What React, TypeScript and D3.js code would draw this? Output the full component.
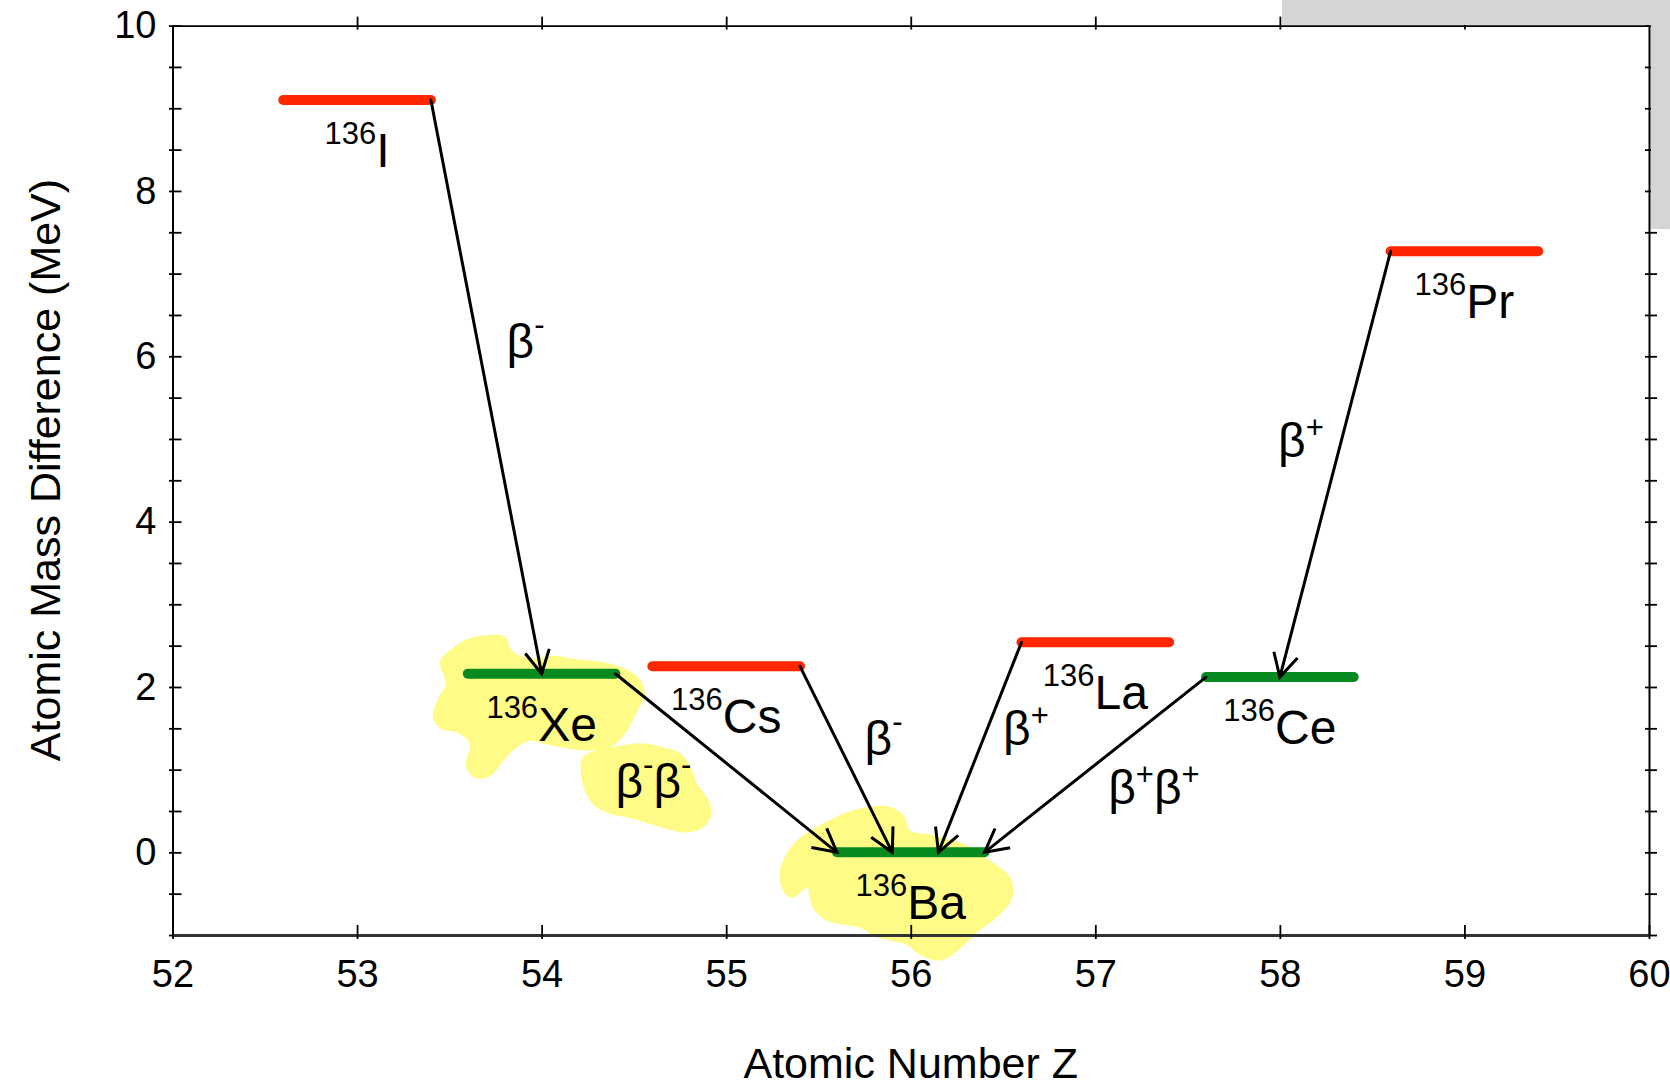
import React, { useEffect, useRef } from "react";
import * as d3 from "d3";

const W = 1670;
const H = 1086;
const FONT = "'Liberation Sans', Arial, Helvetica, sans-serif";

// isotopes of the A = 136 isobar
const massNumber = "136";
const elements = ["I", "Xe", "Cs", "Ba", "La", "Ce", "Pr"];
const protonNumbers = [53, 54, 55, 56, 57, 58, 59];
const massDiff = [9.1, 2.16, 2.25, 0, 2.54, 2.12, 7.27];
const isStable = [false, true, false, true, false, true, false];

// decays (arrows)
const decayFrom = ["I", "Xe", "Cs", "La", "Ce", "Pr"];
const decayTo = ["Xe", "Ba", "Ba", "Ba", "Ba", "Ce"];
const decayHitZ = [54.0, 55.6, 55.9, 56.15, 56.4, 58.0];
const decayLabel = ["β^-", "β^-β^-", "β^-", "β^+", "β^+β^+", "β^+"];
const decayLabelZ = [53.81, 54.4, 55.75, 56.5, 57.07, 57.99];
const decayLabelE = [5.98, 0.66, 1.18, 1.3, 0.59, 4.78];

// axis ticks
const xTicks = [52, 53, 54, 55, 56, 57, 58, 59, 60];
const yTicks = d3.range(-1, 10.01, 0.5);
const yTickLabels = [0, 2, 4, 6, 8, 10];

// highlighter marks, outline points in (Z, MeV)
const xeHighlight = [
  [53.45, 2.31], [53.53, 2.49], [53.61, 2.59], [53.72, 2.63], [53.8, 2.61], [53.84, 2.44],
  [53.94, 2.34], [54.06, 2.38], [54.17, 2.34], [54.3, 2.31], [54.42, 2.25], [54.53, 2.1],
  [54.56, 1.9], [54.52, 1.72], [54.46, 1.46], [54.38, 1.28], [54.26, 1.23], [54.13, 1.26],
  [54.02, 1.31], [53.94, 1.35], [53.86, 1.26], [53.79, 1.1], [53.72, 0.92], [53.64, 0.9],
  [53.59, 1.04], [53.61, 1.32], [53.55, 1.44], [53.45, 1.5], [53.41, 1.64], [53.44, 1.86],
  [53.48, 2.04],
];
const bbHighlight = [
  [54.22, 1.14], [54.29, 1.23], [54.4, 1.28], [54.53, 1.32], [54.64, 1.28], [54.75, 1.2],
  [54.81, 1.02], [54.84, 0.84], [54.9, 0.65], [54.92, 0.47], [54.88, 0.31], [54.79, 0.24],
  [54.7, 0.27], [54.59, 0.34], [54.49, 0.41], [54.38, 0.46], [54.29, 0.56], [54.23, 0.77],
];
const baHighlight = [
  [55.29, -0.23], [55.36, 0.09], [55.51, 0.33], [55.69, 0.51], [55.87, 0.56], [55.96, 0.45],
  [56.0, 0.26], [56.12, 0.21], [56.3, 0.09], [56.43, -0.1], [56.54, -0.31], [56.55, -0.55],
  [56.48, -0.76], [56.37, -0.95], [56.27, -1.16], [56.16, -1.31], [56.05, -1.24], [55.98, -1.12],
  [55.82, -1.03], [55.72, -0.91], [55.55, -0.83], [55.47, -0.67], [55.45, -0.52], [55.44, -0.43],
  [55.36, -0.55], [55.31, -0.47],
];

const supRaise = { "-": 23, "+": 19 };

// "β^-β^-" -> tspans with superscripts
function richText(sel, str, size, supSize) {
  const parts = str.split(/(\^.)/).filter((p) => p !== "");
  let raised = 0;
  parts.forEach((p) => {
    if (p.startsWith("^")) {
      const c = p.slice(1);
      const r = supRaise[c] || 22;
      sel.append("tspan").attr("font-size", supSize).attr("dy", -r - raised).text(c);
      raised = -r;
    } else {
      sel.append("tspan").attr("font-size", size).attr("dy", -raised).text(p);
      raised = 0;
    }
  });
}

const App = () => {
  const svgRef = useRef(null);

  useEffect(() => {
    const svg = d3.select(svgRef.current);
    svg.selectAll("*").remove();

    const x = d3.scaleLinear().domain([52, 60]).range([172.5, 1649]);
    const y = d3.scaleLinear().domain([-1, 10]).range([935, 25.6]);
    const [x0, x1] = x.range();
    const [y0, y1] = y.range();

    // highlighter blobs
    const blob = d3
      .line()
      .x((d) => x(d[0]))
      .y((d) => y(d[1]))
      .curve(d3.curveCatmullRomClosed.alpha(0.5));
    svg
      .append("g")
      .selectAll("path")
      .data([xeHighlight, bbHighlight, baHighlight])
      .join("path")
      .attr("d", blob)
      .attr("fill", "#fffb87");

    // axes
    const left = svg
      .append("g")
      .attr("transform", `translate(${x0},0)`)
      .call(
        d3.axisLeft(y)
          .tickValues(yTicks)
          .tickSizeInner(3.5)
          .tickSizeOuter(0)
          .tickPadding(12.5)
          .tickFormat((d) => (yTickLabels.includes(d) ? String(d) : ""))
      );
    left.selectAll(".tick line").attr("x1", 9).attr("stroke-width", 1.8);
    left.select(".domain").attr("stroke-width", 2);

    const right = svg
      .append("g")
      .attr("transform", `translate(${x1},0)`)
      .call(d3.axisRight(y).tickValues(yTicks).tickSizeInner(8).tickSizeOuter(0).tickFormat(() => ""));
    right.selectAll(".tick line").attr("x1", -4).attr("stroke-width", 1.8);
    right.select(".domain").attr("stroke-width", 2);

    const bottom = svg
      .append("g")
      .attr("transform", `translate(0,${y0})`)
      .call(
        d3.axisBottom(x)
          .tickValues(xTicks)
          .tickSizeInner(4)
          .tickSizeOuter(0)
          .tickPadding(21)
          .tickFormat(d3.format("d"))
      );
    bottom.selectAll(".tick line").attr("y1", -10).attr("stroke-width", 1.8);
    bottom.select(".domain").attr("stroke-width", 3).attr("stroke", "#333");

    const top = svg
      .append("g")
      .attr("transform", `translate(0,${y1})`)
      .call(d3.axisTop(x).tickValues(xTicks.slice(1, -1)).tickSizeInner(9).tickSizeOuter(0).tickFormat(() => ""));
    top.selectAll(".tick line").attr("y1", 4).attr("stroke-width", 1.8);
    top.select(".domain").attr("stroke-width", 1.6);

    svg
      .selectAll("g.tick text")
      .attr("font-size", 38)
      .attr("font-family", FONT)
      .attr("fill", "#000");

    // axis titles
    svg
      .append("text")
      .attr("x", (x0 + x1) / 2)
      .attr("y", 1078)
      .attr("text-anchor", "middle")
      .attr("font-family", FONT)
      .attr("font-size", 43)
      .text("Atomic Number Z");
    svg
      .append("text")
      .attr("transform", `translate(60,470) rotate(-90)`)
      .attr("text-anchor", "middle")
      .attr("font-family", FONT)
      .attr("font-size", 43)
      .text("Atomic Mass Difference (MeV)");

    // level bars
    const half = 0.4;
    const levels = elements.map((el, i) => ({
      el,
      z: protonNumbers[i],
      e: massDiff[i],
      stable: isStable[i],
    }));
    const byEl = new Map(levels.map((d) => [d.el, d]));

    svg
      .append("g")
      .selectAll("line")
      .data(levels)
      .join("line")
      .attr("x1", (d) => x(d.z - half))
      .attr("x2", (d) => x(d.z + half))
      .attr("y1", (d) => y(d.e))
      .attr("y2", (d) => y(d.e))
      .attr("stroke", (d) => (d.stable ? "#078a1f" : "#ff2600"))
      .attr("stroke-width", 10)
      .attr("stroke-linecap", "round");

    // decay arrows
    const decays = decayFrom.map((f, i) => {
      const a = byEl.get(f);
      const b = byEl.get(decayTo[i]);
      const sx = b.z > a.z ? a.z + half : a.z - half;
      return { sx: x(sx), sy: y(a.e), tx: x(decayHitZ[i]), ty: y(b.e) };
    });
    const arrows = svg.append("g").attr("stroke", "#000").attr("fill", "none").attr("stroke-width", 3);
    arrows
      .selectAll("line")
      .data(decays)
      .join("line")
      .attr("x1", (d) => d.sx)
      .attr("y1", (d) => d.sy)
      .attr("x2", (d) => d.tx)
      .attr("y2", (d) => d.ty)
      .attr("stroke-linecap", "round");
    const headLen = 26;
    const headAng = (28 * Math.PI) / 180;
    arrows
      .selectAll("path")
      .data(decays)
      .join("path")
      .attr("d", (d) => {
        const a = Math.atan2(d.sy - d.ty, d.sx - d.tx);
        const p1 = [d.tx + headLen * Math.cos(a + headAng), d.ty + headLen * Math.sin(a + headAng)];
        const p2 = [d.tx + headLen * Math.cos(a - headAng), d.ty + headLen * Math.sin(a - headAng)];
        return `M${p1[0]},${p1[1]}L${d.tx},${d.ty}L${p2[0]},${p2[1]}`;
      })
      .attr("stroke-linejoin", "miter");

    // isotope labels
    levels.forEach((d) => {
      const t = svg
        .append("text")
        .attr("x", x(d.z))
        .attr("y", y(d.e) + 67)
        .attr("text-anchor", "middle")
        .attr("font-family", FONT);
      t.append("tspan").attr("font-size", 31).attr("dy", -23).text(massNumber);
      t.append("tspan").attr("font-size", 48).attr("dy", 23).text(d.el);
    });

    // decay mode labels
    decayLabel.forEach((lab, i) => {
      const t = svg
        .append("text")
        .attr("x", x(decayLabelZ[i]))
        .attr("y", y(decayLabelE[i]))
        .attr("font-family", FONT);
      richText(t, lab, 48, 31);
    });

    // grey panel behind the top right corner
    svg.append("rect").attr("x", 1282).attr("y", 0).attr("width", W - 1282).attr("height", 25).attr("fill", "#d5d5d5");
    svg.append("rect").attr("x", 1651).attr("y", 0).attr("width", W - 1651).attr("height", 229).attr("fill", "#d5d5d5");
  }, []);

  return (
    <svg
      ref={svgRef}
      width={W}
      height={H}
      style={{ position: "absolute", left: 0, top: 0, background: "#fff" }}
    ></svg>
  );
};

export default App;
